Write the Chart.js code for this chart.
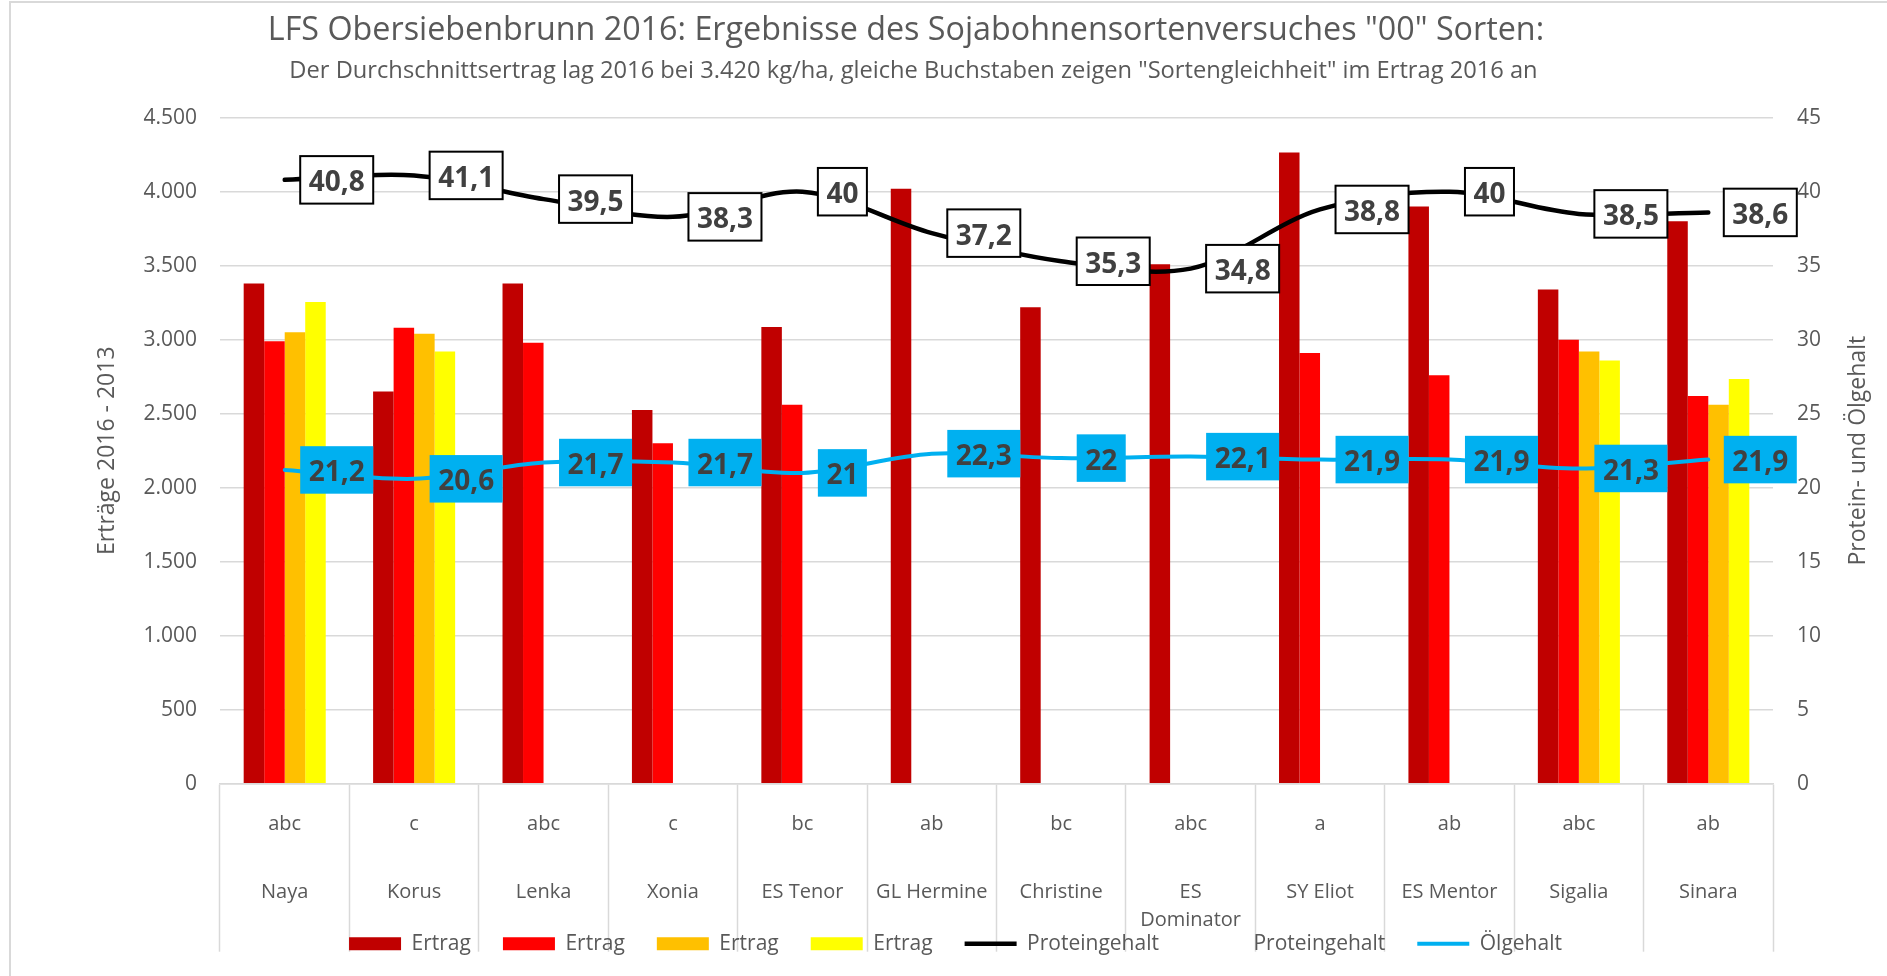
<!DOCTYPE html>
<html>
<head>
<meta charset="utf-8">
<script src="https://cdn.jsdelivr.net/npm/chart.js@4/dist/chart.umd.min.js"></script>
<style>
html,body{margin:0;padding:0;background:#fff;}
#wrap{position:relative;width:1887px;height:976px;overflow:hidden;background:#fff;}
#frame{position:absolute;left:9px;top:1px;width:2000px;height:2000px;border-left:2px solid #d9d9d9;border-top:2px solid #d9d9d9;pointer-events:none;}
canvas{position:absolute;left:0;top:0;}
</style>
</head>
<body>
<div id="wrap"><canvas id="c" width="1887" height="976"></canvas><div id="frame"></div></div>
<script>
// ---- data ----
const titleText = 'LFS Obersiebenbrunn 2016: Ergebnisse des Sojabohnensortenversuches "00" Sorten:';
const subtitleText = 'Der Durchschnittsertrag lag 2016 bei 3.420 kg/ha, gleiche Buchstaben zeigen "Sortengleichheit" im Ertrag 2016 an';
const categories = ["Naya","Korus","Lenka","Xonia","ES Tenor","GL Hermine","Christine","ES Dominator","SY Eliot","ES Mentor","Sigalia","Sinara"];
const letters = ["abc","c","abc","c","bc","ab","bc","abc","a","ab","abc","ab"];
const ertragA = [3380,2650,3380,2525,3085,4020,3220,3510,4265,3900,3340,3800];
const ertragB = [2990,3080,2980,2300,2560,null,null,null,2910,2760,3000,2620];
const ertragC = [3050,3040,null,null,null,null,null,null,null,null,2920,2560];
const ertragD = [3255,2920,null,null,null,null,null,null,null,null,2860,2735];
const protein = [40.8,41.1,39.5,38.3,40,37.2,35.3,34.8,38.8,40,38.5,38.6];
const oil = [21.2,20.6,21.7,21.7,21,22.3,22,22.1,21.9,21.9,21.3,21.9];
const leftAxisTitle = "Erträge 2016 - 2013";
const rightAxisTitle = "Protein- und Ölgehalt";
const leftMax = 4500, leftStep = 500;
const rightMax = 45, rightStep = 5;
const wrapLabels = {"ES Dominator": ["ES","Dominator"]};

// ---- helpers ----
const GRAY = '#595959';
const FONT = '"Open Sans", "Noto Sans", sans-serif';
const fmtThousands = v => String(v).replace(/\B(?=(\d{3})+(?!\d))/g, '.');
const fmtComma = v => String(v).replace('.', ',');

function fitFont(ctx, text, weight, targetWidth) {
  ctx.font = weight + ' 100px ' + FONT;
  const w = ctx.measureText(text).width;
  return 100 * targetWidth / w;
}

const titlePlugin = {
  id: 'titlesAndRightTitle',
  afterLayout(chart) {
    // let the wrapped category names run below the axis box (no clipping)
    const s = chart.scales.x;
    s.bottom = chart.height;
    s.height = s.bottom - s.top;
  },
  afterDraw(chart) {
    const ctx = chart.ctx;
    ctx.save();
    ctx.fillStyle = GRAY;
    ctx.textAlign = 'center';
    ctx.textBaseline = 'middle';
    let s = fitFont(ctx, titleText, 'normal', 1277);
    ctx.font = 'normal ' + s + 'px ' + FONT;
    ctx.fillText(titleText, 906, 31);
    s = fitFont(ctx, subtitleText, 'normal', 1249);
    ctx.font = 'normal ' + s + 'px ' + FONT;
    ctx.fillText(subtitleText, 913.5, 71);
    // right axis title, rotated like the left one (reads bottom to top)
    const y1 = chart.scales.y1;
    ctx.translate(1858, (y1.top + y1.bottom) / 2);
    ctx.rotate(-Math.PI / 2);
    ctx.font = 'normal 23px ' + FONT;
    ctx.fillText(rightAxisTitle, 0, 0);
    ctx.restore();
  }
};

const boxLabelPlugin = {
  id: 'boxLabels',
  afterDatasetsDraw(chart) {
    const ctx = chart.ctx;
    chart.data.datasets.forEach((ds, di) => {
      if (!ds.boxLabel) return;
      const meta = chart.getDatasetMeta(di);
      ctx.save();
      ctx.font = 'bold 28px ' + FONT;
      meta.data.forEach((pt, i) => {
        const txt = fmtComma(ds.data[i]);
        const tw = ctx.measureText(txt).width;
        const w = tw + 17, h = 47.5;
        const x0 = pt.x + 15.5, y0 = pt.y - h / 2;
        ctx.fillStyle = ds.boxLabel.fill;
        ctx.fillRect(x0, y0, w, h);
        if (ds.boxLabel.stroke) {
          ctx.lineWidth = 2;
          ctx.strokeStyle = ds.boxLabel.stroke;
          ctx.strokeRect(x0, y0, w, h);
        }
        ctx.fillStyle = '#404040';
        ctx.textAlign = 'center';
        ctx.textBaseline = 'alphabetic';
        ctx.fillText(txt, x0 + w / 2, pt.y + 11.5);
      });
      ctx.restore();
    });
  }
};

const barCommon = { type: 'bar', xAxisID: 'x', yAxisID: 'y', borderWidth: 0, order: 2,
                    categoryPercentage: 0.634, barPercentage: 1.0 };

const chart = new Chart(document.getElementById('c'), {
  type: 'bar',
  data: {
    labels: categories,
    datasets: [
      Object.assign({}, barCommon, { label: 'Ertrag', data: ertragA, backgroundColor: '#C00000' }),
      Object.assign({}, barCommon, { label: 'Ertrag', data: ertragB, backgroundColor: '#FF0000' }),
      Object.assign({}, barCommon, { label: 'Ertrag', data: ertragC, backgroundColor: '#FFC000' }),
      Object.assign({}, barCommon, { label: 'Ertrag', data: ertragD, backgroundColor: '#FFFF00' }),
      { type: 'line', label: 'Proteingehalt', data: protein, xAxisID: 'x', yAxisID: 'y1', order: 1,
        borderColor: '#000000', backgroundColor: '#000000', borderWidth: 4.5, tension: 0.33,
        pointRadius: 0, borderCapStyle: 'round', fill: false,
        boxLabel: { fill: '#ffffff', stroke: '#000000' } },
      { type: 'line', label: 'Ölgehalt', data: oil, xAxisID: 'x', yAxisID: 'y1', order: 1,
        borderColor: '#00B0F0', backgroundColor: '#00B0F0', borderWidth: 4, tension: 0.33,
        pointRadius: 0, borderCapStyle: 'round', fill: false,
        boxLabel: { fill: '#00B0F0', stroke: null } }
    ]
  },
  options: {
    responsive: false,
    animation: false,
    layout: { padding: { top: 117.7, left: 24, right: 0, bottom: 11.8 } },
    plugins: {
      title: { display: false },
      tooltip: { enabled: false },
      legend: {
        display: true,
        position: 'bottom',
        labels: {
          usePointStyle: true,
          pointStyleWidth: 52,
          boxHeight: 13,
          padding: 32,
          color: GRAY,
          font: { family: FONT, size: 21 },
          generateLabels(chart) {
            const items = Chart.defaults.plugins.legend.labels.generateLabels(chart);
            items.sort((a, b) => a.datasetIndex - b.datasetIndex);
            items.forEach(it => {
              const ds = chart.data.datasets[it.datasetIndex];
              it.pointStyle = ds.type === 'line' ? 'line' : 'rect';
            });
            const p = items.findIndex(it => chart.data.datasets[it.datasetIndex].label === 'Proteingehalt');
            items.splice(p + 1, 0, { text: 'Proteingehalt', fillStyle: 'rgba(0,0,0,0)',
              strokeStyle: 'rgba(0,0,0,0)', lineWidth: 0, pointStyle: 'line', hidden: false,
              datasetIndex: -1, fontColor: GRAY });
            return items;
          }
        }
      }
    },
    scales: {
      x: {
        type: 'category',
        position: 'bottom',
        weight: 1,
        offset: true,
        grid: { display: false, drawTicks: false, offset: true },
        border: { display: false },
        ticks: {
          autoSkip: false, maxRotation: 0, minRotation: 0,
          color: GRAY, padding: 25.95,
          font: { family: FONT, size: 20, lineHeight: 1.435 },
          callback: (v, i) => wrapLabels[categories[i]] || categories[i]
        },
        afterFit: s => { s.height = 49.5; }
      },
      xl: {
        type: 'category',
        labels: letters,
        position: 'bottom',
        weight: 0,
        offset: true,
        grid: { display: true, drawOnChartArea: false, drawTicks: true, tickLength: 168,
                offset: true, tickColor: '#d9d9d9', tickWidth: 1.5, color: '#d9d9d9' },
        border: { display: true, color: '#d9d9d9', width: 1.5 },
        ticks: {
          autoSkip: false, maxRotation: 0, minRotation: 0,
          color: GRAY, padding: 26.3 - 168,
          font: { family: FONT, size: 20, lineHeight: 1.4 }
        },
        afterFit: s => { s.height = 68; }
      },
      y: {
        type: 'linear',
        position: 'left',
        min: 0, max: leftMax,
        grid: { color: '#d9d9d9', lineWidth: 1.5, drawTicks: false },
        border: { display: false },
        ticks: { stepSize: leftStep, padding: 23, color: GRAY,
                 font: { family: FONT, size: 21 }, callback: v => fmtThousands(v) },
        title: { display: true, text: leftAxisTitle, color: GRAY,
                 font: { family: FONT, size: 23, lineHeight: 1.2 }, padding: { top: 69.2, bottom: 0 } },
        afterFit: s => { s.width = 196; }
      },
      y1: {
        type: 'linear',
        position: 'right',
        min: 0, max: rightMax,
        grid: { drawOnChartArea: false, drawTicks: false },
        border: { display: false },
        ticks: { stepSize: rightStep, padding: 24, color: GRAY,
                 font: { family: FONT, size: 21 } },
        title: { display: false },
        afterFit: s => { s.width = 114; }
      }
    }
  },
  plugins: [boxLabelPlugin, titlePlugin]
});
</script>
</body>
</html>
